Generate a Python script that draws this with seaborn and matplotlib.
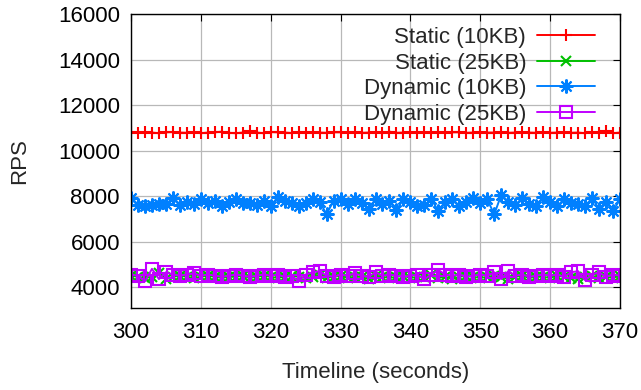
import numpy as np
import pandas as pd
import matplotlib
matplotlib.use("Agg")
import matplotlib.pyplot as plt
import seaborn as sns

# timeline, one sample per second
seconds = list(range(300, 371))

static_10kb = [10800, 10780, 10820, 10790, 10760, 10800, 10810, 10790, 10780, 10800,
               10760, 10790, 10800, 10830, 10780, 10760, 10790, 10850, 10790, 10760,
               10810, 10800, 10790, 10770, 10800, 10790, 10800, 10790, 10780, 10800,
               10800, 10790, 10800, 10780, 10790, 10800, 10760, 10830, 10780, 10790,
               10800, 10790, 10800, 10780, 10800, 10790, 10800, 10800, 10780, 10790,
               10800, 10790, 10790, 10800, 10780, 10790, 10800, 10790, 10780, 10800,
               10780, 10790, 10800, 10780, 10790, 10760, 10800, 10780, 10850, 10760,
               10790]

static_25kb = [4500, 4450, 4400, 4450, 4600, 4350, 4450, 4500, 4450, 4400,
               4450, 4500, 4450, 4400, 4450, 4450, 4500, 4400, 4450, 4500,
               4450, 4400, 4450, 4500, 4450, 4400, 4450, 4550, 4400, 4450,
               4500, 4400, 4450, 4450, 4350, 4500, 4450, 4400, 4450, 4500,
               4400, 4450, 4450, 4550, 4400, 4450, 4350, 4450, 4500, 4450,
               4400, 4450, 4500, 4450, 4350, 4450, 4500, 4400, 4450, 4450,
               4400, 4500, 4450, 4400, 4350, 4450, 4500, 4400, 4450, 4400,
               4500]

dynamic_10kb = [7900, 7600, 7550, 7600, 7650, 7650, 7900, 7600, 7750, 7650,
                7850, 7700, 7800, 7550, 7750, 7850, 7700, 7700, 7600, 7800,
                7550, 7950, 7800, 7700, 7550, 7700, 7850, 7750, 7200, 7800,
                7850, 7650, 7850, 7700, 7450, 7850, 7650, 7800, 7400, 7850,
                7750, 7550, 7600, 7850, 7350, 7750, 7850, 7550, 7750, 7900,
                7700, 7850, 7200, 8050, 7750, 7600, 7900, 7650, 7550, 7950,
                7750, 7550, 7850, 7700, 7650, 7550, 7900, 7450, 7750, 7350,
                7850]

dynamic_25kb = [4550, 4500, 4250, 4800, 4350, 4650, 4550, 4500, 4550, 4600,
                4500, 4550, 4500, 4450, 4500, 4550, 4500, 4450, 4500, 4550,
                4500, 4550, 4450, 4500, 4250, 4550, 4650, 4700, 4500, 4450,
                4550, 4500, 4600, 4500, 4450, 4650, 4500, 4550, 4500, 4450,
                4500, 4550, 4350, 4550, 4750, 4550, 4500, 4550, 4450, 4500,
                4550, 4500, 4650, 4350, 4700, 4500, 4550, 4450, 4500, 4550,
                4500, 4550, 4450, 4650, 4700, 4300, 4550, 4650, 4450, 4550,
                4500]

labels = ["Static (10KB)", "Static (25KB)", "Dynamic (10KB)", "Dynamic (25KB)"]
colors = ["#ff0000", "#00c000", "#0080ff", "#c000ff"]

sns.set_theme(style="white")
plt.rcParams['font.family'] = ['Liberation Sans', 'DejaVu Sans']

fig = plt.figure(figsize=(6.41, 3.90), dpi=100)
ax = fig.add_axes([131 / 641, 1 - 308 / 390, 489 / 641, 294 / 390])

series = [static_10kb, static_25kb, dynamic_10kb, dynamic_25kb]
markers = ["+", "x", (8, 2, 0), "s"]
msizes = [8, 7, 10, 8]

for vals, lab, col, mk, ms in zip(series, labels, colors, markers, msizes):
    df = pd.DataFrame({"t": seconds, "rps": vals})
    sns.lineplot(data=df, x="t", y="rps", ax=ax, color=col, label=lab,
                 marker=mk, markersize=ms, markeredgewidth=1.5,
                 markerfacecolor="none" if mk == "s" else col,
                 markeredgecolor=col, linewidth=1.4)

ax.set_xlim(300, 370)
ax.set_ylim(3080, 16000)
ax.set_xticks(range(300, 371, 10))
ax.set_yticks(range(4000, 16001, 2000))
ax.grid(True, color="#b8b8b8", linewidth=0.9)
for s in ax.spines.values():
    s.set_color("black")
    s.set_linewidth(1.0)
ax.tick_params(direction="in", length=5, width=0.8, top=True, right=True,
               labelsize=16, colors="black", pad=8)
ax.tick_params(axis="x", pad=10)
ax.set_xlabel("Timeline (seconds)", fontsize=16, labelpad=14)
ax.set_ylabel("RPS", fontsize=16, labelpad=20)

leg = ax.legend(loc="upper right", bbox_to_anchor=(0.949, 0.955), frameon=False,
                markerfirst=False, fontsize=16, handlelength=2.6,
                handletextpad=0.5, labelspacing=0.2, borderpad=0,
                borderaxespad=0)

fig.savefig("out.png", dpi=100)
